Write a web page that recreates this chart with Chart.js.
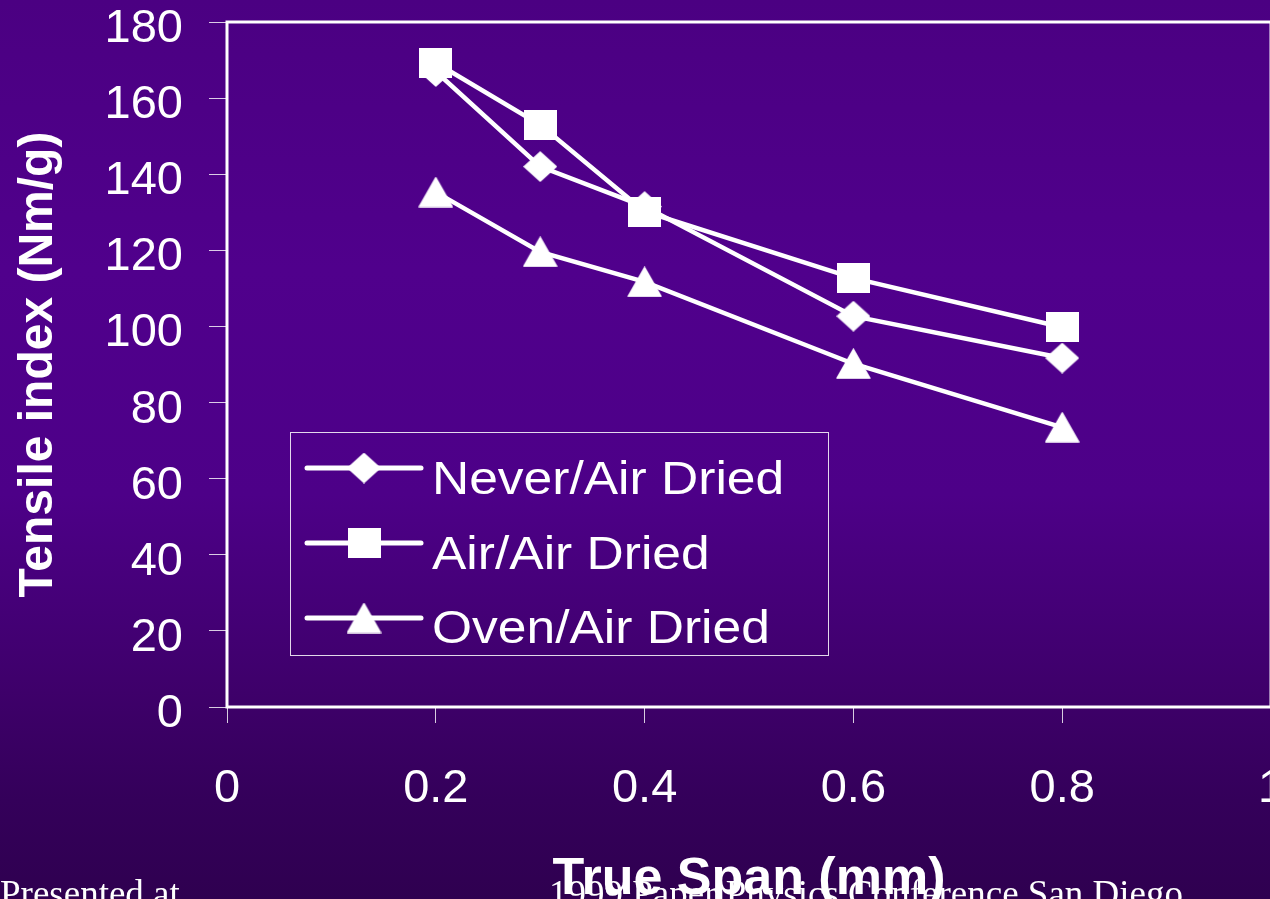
<!DOCTYPE html>
<html>
<head>
<meta charset="utf-8">
<title>Tensile index vs true span</title>
<script src="https://cdn.jsdelivr.net/npm/chart.js@4/dist/chart.umd.min.js"></script>
<style>
  html, body {
    margin: 0;
    padding: 0;
    overflow: hidden;
    background: #3c0066;
  }
  #frame {
    position: relative;
    width: 1270px;
    height: 899px;
    overflow: hidden;
  }
  #chart {
    display: block;
  }
</style>
</head>
<body>
<div id="frame">
  <canvas id="chart" width="1300" height="899"></canvas>
</div>
<script>
// Tensile index of handsheets measured at several true spans
const spanMm = [0.2, 0.3, 0.4, 0.6, 0.8];
const neverAirDried = [167, 142, 131.5, 102.7, 91.7];
const airAirDried = [169.3, 153, 130.2, 112.7, 99.8];
const ovenAirDried = [135.3, 119.6, 111.7, 90.2, 73.5];
const seriesNames = ['Never/Air Dried', 'Air/Air Dried', 'Oven/Air Dried'];
const xTickLabels = ['0', '0.2', '0.4', '0.6', '0.8', '1'];
const yTickLabels = ['0', '20', '40', '60', '80', '100', '120', '140', '160', '180'];
const xAxisTitle = 'True Span (mm)';
const yAxisTitle = 'Tensile index (Nm/g)';
const footerLeft = 'Presented at';
const footerRight = '1999 Paper Physics Conference San Diego';

const SANS = '"Liberation Sans", Arial, sans-serif';
const SERIF = '"Liberation Serif", "Times New Roman", serif';

// Marker sprites (slightly wider than tall, like the slide's markers)
function makeMarker(shape, w, h) {
  const c = document.createElement('canvas');
  c.width = w;
  c.height = h;
  const g = c.getContext('2d');
  g.fillStyle = '#ffffff';
  g.strokeStyle = '#ffffff';
  g.lineJoin = 'round';
  g.lineWidth = 1.5;
  g.beginPath();
  if (shape === 'diamond') {
    g.moveTo(w / 2, 1);
    g.lineTo(w - 1, h / 2);
    g.lineTo(w / 2, h - 1);
    g.lineTo(1, h / 2);
  } else if (shape === 'square') {
    g.rect(0, 0, w, h);
  } else {
    g.moveTo(w / 2, 1);
    g.lineTo(w - 1, h - 1);
    g.lineTo(1, h - 1);
  }
  g.closePath();
  g.fill();
  if (shape !== 'square') g.stroke();
  return c;
}

const diamondMarker = makeMarker('diamond', 34, 31);
const squareMarker = makeMarker('square', 33, 30);
const triangleMarker = makeMarker('triangle', 35, 31);

function pairs(values) {
  return values.map((v, i) => ({ x: spanMm[i], y: v }));
}

function seriesStyle(label, values, marker, order) {
  return {
    label: label,
    data: pairs(values),
    borderColor: '#ffffff',
    backgroundColor: '#ffffff',
    borderWidth: 4.5,
    tension: 0,
    pointStyle: marker,
    pointRadius: 17,
    order: order
  };
}

const slideBackground = {
  id: 'slideBackground',
  beforeDraw(chart) {
    const ctx = chart.ctx;
    const h = chart.height;
    const grad = ctx.createLinearGradient(0, 0, 0, h);
    grad.addColorStop(0.0, 'rgb(75,0,130)');
    grad.addColorStop(0.3, 'rgb(80,0,140)');
    grad.addColorStop(0.55, 'rgb(77,0,136)');
    grad.addColorStop(0.77, 'rgb(62,0,106)');
    grad.addColorStop(0.89, 'rgb(52,0,90)');
    grad.addColorStop(1.0, 'rgb(47,0,80)');
    ctx.save();
    ctx.fillStyle = grad;
    ctx.fillRect(0, 0, chart.width, h);
    ctx.restore();
  }
};

const plotFrame = {
  id: 'plotFrame',
  beforeDatasetsDraw(chart) {
    const a = chart.chartArea;
    const ctx = chart.ctx;
    ctx.save();
    ctx.strokeStyle = '#ffffff';
    ctx.lineWidth = 3;
    ctx.strokeRect(a.left, a.top, a.right - a.left, a.bottom - a.top);
    ctx.restore();
  }
};

const boxedLegend = {
  id: 'boxedLegend',
  afterDraw(chart) {
    const ctx = chart.ctx;
    const box = { x: 290.5, y: 432.5, w: 538, h: 223 };
    const rows = [468, 543, 618];
    const baselines = [494, 569, 643];
    ctx.save();
    ctx.strokeStyle = 'rgba(255,255,255,0.85)';
    ctx.lineWidth = 1;
    ctx.strokeRect(box.x, box.y, box.w, box.h);
    chart.data.datasets.forEach((ds, i) => {
      const y = rows[i];
      ctx.strokeStyle = '#ffffff';
      ctx.lineWidth = 5;
      ctx.lineCap = 'round';
      ctx.beginPath();
      ctx.moveTo(307, y);
      ctx.lineTo(421, y);
      ctx.stroke();
      const m = ds.pointStyle;
      ctx.drawImage(m, 364 - m.width / 2, y - m.height / 2);
      ctx.save();
      ctx.translate(432, baselines[i]);
      ctx.scale(1.12, 1);
      ctx.fillStyle = '#ffffff';
      ctx.font = '46px ' + SANS;
      ctx.textBaseline = 'alphabetic';
      ctx.textAlign = 'left';
      ctx.fillText(ds.label, 0, 0);
      ctx.restore();
    });
    ctx.restore();
  }
};

const slideFooter = {
  id: 'slideFooter',
  afterDraw(chart) {
    const ctx = chart.ctx;
    ctx.save();
    ctx.fillStyle = '#ffffff';
    ctx.font = '37px ' + SERIF;
    ctx.textBaseline = 'alphabetic';
    ctx.textAlign = 'left';
    ctx.fillText(footerLeft, 0, 906);
    ctx.fillText(footerRight, 549, 906);
    ctx.restore();
  }
};

new Chart(document.getElementById('chart'), {
  type: 'line',
  data: {
    datasets: [
      seriesStyle(seriesNames[0], neverAirDried, diamondMarker, 3),
      seriesStyle(seriesNames[1], airAirDried, squareMarker, 2),
      seriesStyle(seriesNames[2], ovenAirDried, triangleMarker, 1)
    ]
  },
  options: {
    responsive: false,
    animation: false,
    events: [],
    layout: { padding: { left: 0, top: 22, right: 29, bottom: 0 } },
    plugins: {
      legend: { display: false },
      tooltip: { enabled: false }
    },
    scales: {
      x: {
        type: 'linear',
        min: 0,
        max: 1,
        border: { display: false },
        grid: {
          drawOnChartArea: false,
          tickLength: 16,
          color: 'rgba(255,255,255,0.8)',
          lineWidth: 1
        },
        ticks: {
          stepSize: 0.2,
          padding: 38,
          color: '#ffffff',
          font: { family: SANS, size: 47 },
          maxRotation: 0,
          autoSkip: false,
          callback: (v, i) => xTickLabels[i]
        },
        title: {
          display: true,
          text: xAxisTitle,
          color: '#ffffff',
          font: { family: SANS, size: 52, weight: 'bold', lineHeight: 0.75 },
          padding: { top: 0, bottom: 0 }
        },
        afterFit(scale) {
          scale.height = 192;
          scale.paddingLeft = 0;
          scale.paddingRight = 0;
        }
      },
      y: {
        min: 0,
        max: 180,
        border: { display: false },
        grid: {
          drawOnChartArea: false,
          tickLength: 18,
          color: 'rgba(255,255,255,0.8)',
          lineWidth: 1
        },
        ticks: {
          stepSize: 20,
          padding: 26,
          labelOffset: 7,
          color: '#ffffff',
          font: { family: SANS, size: 47, lineHeight: 0.9 },
          callback: (v, i) => yTickLabels[i]
        },
        title: {
          display: true,
          text: yAxisTitle,
          color: '#ffffff',
          font: { family: SANS, size: 48, weight: 'bold' },
          padding: { top: 10, bottom: 0 }
        },
        afterFit(scale) {
          scale.width = 227;
          scale.paddingTop = 0;
          scale.paddingBottom = 0;
        }
      }
    }
  },
  plugins: [slideBackground, plotFrame, boxedLegend, slideFooter]
});
</script>
</body>
</html>
